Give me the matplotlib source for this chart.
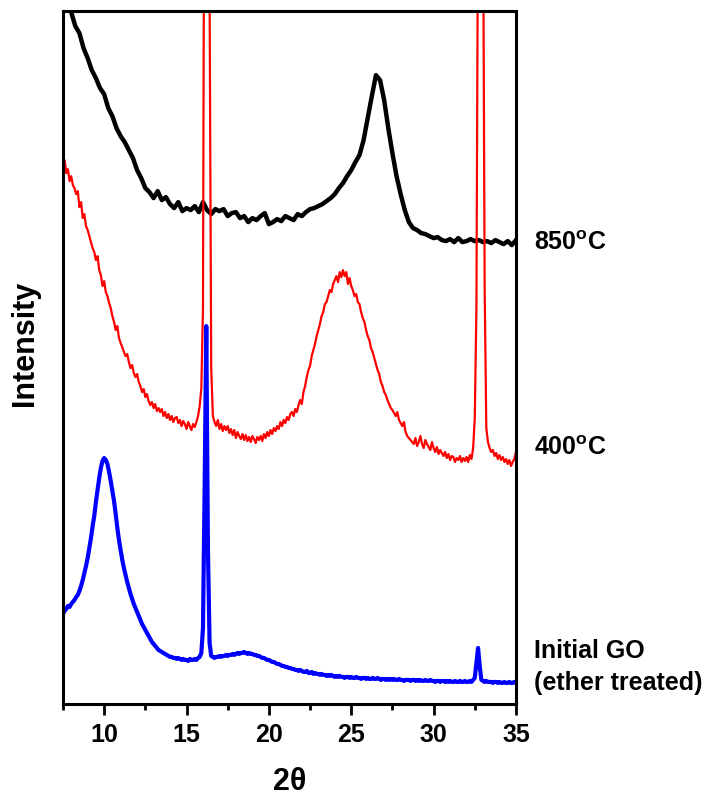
import numpy as np
import matplotlib
matplotlib.use('Agg')
import matplotlib.pyplot as plt

plt.rcParams['font.family'] = ['Liberation Sans', 'DejaVu Sans']
plt.rcParams['font.weight'] = 'bold'
plt.rcParams['mathtext.fontset'] = 'custom'
plt.rcParams['mathtext.rm'] = 'Liberation Sans:bold'
plt.rcParams['mathtext.bf'] = 'Liberation Sans:bold'

# 850 C sample, 0.25 deg steps from 7.5 to 35
int_850 = [700, 690, 676, 662, 655, 640, 630, 618, 610, 600,
           594, 580, 572, 560, 552, 546, 538, 530, 518, 510,
           500, 496, 490, 497, 488, 491, 484, 480, 486, 477,
           480, 478, 482, 476, 486, 478, 474, 479, 477, 479,
           472, 475, 476, 470, 472, 466, 470, 468, 472, 475,
           464, 466, 469, 467, 472, 470, 468, 474, 472, 476,
           479, 480, 482, 484, 487, 490, 494, 500, 505, 512,
           518, 526, 533, 548, 570, 592, 613, 608, 588, 560,
           535, 512, 494, 478, 466, 460, 458, 455, 454, 452,
           450, 451, 448, 447, 449, 446, 450, 446, 447, 449,
           447, 448, 446, 447, 445, 448, 446, 444, 447, 443,
           448]

# 400 C sample, 0.1 deg steps from 7.5 to 35
int_400 = [521, 528, 515, 519, 507, 512, 503, 500, 494, 497,
           481, 486, 470, 474, 462, 458, 452, 446, 440, 436,
           428, 432, 418, 413, 402, 407, 396, 392, 385, 380,
           372, 366, 358, 362, 350, 345, 341, 336, 332, 334,
           326, 320, 323, 315, 311, 314, 306, 302, 296, 299,
           291, 294, 287, 283, 286, 280, 284, 277, 280, 276,
           279, 272, 276, 270, 274, 268, 272, 266, 270, 271,
           265, 268, 262, 267, 264, 259, 266, 262, 258, 264,
           261, 266, 272, 282, 300, 380, 1000, 1000, 1000, 700,
           320, 272, 266, 262, 268, 259, 264, 257, 262, 258,
           262, 255, 259, 253, 258, 250, 256, 252, 249, 254,
           248, 253, 247, 251, 246, 252, 249, 245, 251, 248,
           252, 247, 254, 250, 256, 252, 258, 254, 260, 257,
           262, 259, 266, 262, 268, 265, 271, 268, 274, 276,
           272, 279, 276, 283, 288, 284, 296, 302, 311, 318,
           322, 332, 338, 344, 352, 358, 364, 372, 376, 384,
           386, 392, 398, 396, 404, 408, 412, 406, 416, 411,
           418, 412, 416, 404, 410, 402, 398, 392, 394, 386,
           384, 376, 370, 366, 358, 352, 348, 340, 336, 330,
           324, 318, 314, 306, 302, 296, 293, 288, 284, 280,
           278, 275, 272, 276, 268, 265, 262, 266, 256, 252,
           250, 248, 246, 244, 250, 242, 246, 252, 244, 240,
           248, 244, 241, 238, 246, 240, 236, 241, 234, 238,
           235, 232, 236, 230, 234, 228, 232, 231, 226, 230,
           228, 232, 226, 230, 227, 231, 226, 233, 229, 240,
           270, 380, 800, 1000, 1000, 800, 400, 260, 246, 240,
           236, 238, 232, 235, 229, 233, 228, 231, 226, 229,
           224, 228, 222, 226, 229, 236]

# initial GO (ether treated), 0.1 deg steps from 7.5 to 35
int_go = [74, 77, 79, 82, 81, 84, 86, 88, 91, 93,
          97, 102, 108, 115, 122, 130, 140, 150, 162, 172,
          186, 198, 210, 220, 227, 230, 228, 224, 216, 207,
          197, 187, 174, 160, 148, 138, 128, 120, 113, 106,
          100, 94, 89, 84, 80, 76, 72, 68, 64, 61,
          58, 55, 52, 49, 46, 44, 42, 40, 38, 37,
          36, 35, 34, 33, 32, 31, 31, 30, 30, 29,
          30, 29, 28, 29, 28, 28, 27, 29, 28, 28,
          29, 28, 30, 31, 35, 60, 200, 362, 140, 45,
          32, 31, 30, 31, 31, 32, 31, 32, 32, 33,
          32, 33, 33, 34, 33, 34, 35, 34, 35, 35,
          36, 35, 34, 35, 34, 34, 33, 33, 32, 32,
          31, 30, 30, 29, 28, 28, 27, 26, 26, 25,
          24, 24, 23, 22, 22, 21, 21, 20, 20, 19,
          19, 18, 18, 17, 18, 17, 16, 16, 17, 15,
          15, 16, 14, 15, 14, 14, 13, 14, 13, 13,
          12, 13, 12, 13, 12, 11, 12, 11, 12, 11,
          11, 10, 11, 11, 10, 11, 10, 10, 11, 10,
          10, 9, 10, 10, 9, 10, 9, 9, 10, 9,
          9, 10, 9, 8, 9, 9, 8, 9, 8, 9,
          8, 9, 8, 8, 9, 8, 8, 7, 8, 8,
          8, 7, 8, 8, 7, 8, 7, 8, 7, 7,
          8, 7, 7, 8, 7, 7, 6, 7, 7, 6,
          7, 7, 6, 7, 6, 7, 6, 6, 7, 6,
          6, 7, 6, 6, 7, 6, 6, 7, 6, 8,
          10, 25, 40, 22, 8, 7, 6, 7, 6, 6,
          6, 5, 6, 6, 5, 6, 5, 5, 6, 5,
          5, 6, 5, 5, 6, 5]

labels = [r'850$^{\rm o}$C', r'400$^{\rm o}$C', 'Initial GO\n(ether treated)']
label_heights = [445, 240, 21]   # same units as the intensity lists

tt_850 = np.linspace(7.5, 35, len(int_850))
tt_400 = np.linspace(7.5, 35, len(int_400))
tt_go = np.linspace(7.5, 35, len(int_go))

fig = plt.figure(figsize=(7.18, 7.99), dpi=100)
ax = fig.add_axes([0.0877, 0.119, 0.6309, 0.867])

ax.plot(tt_850, int_850, color='black', lw=3.2)
ax.plot(tt_400, int_400, color='red', lw=1.6)
ax.plot(tt_go, int_go, color='blue', lw=3.0)

ax.set_xlim(7.5, 35)
ax.set_ylim(-16, 677)
ax.set_xticks([10, 15, 20, 25, 30, 35])
ax.set_xticks([7.5, 12.5, 17.5, 22.5, 27.5, 32.5], minor=True)
ax.set_yticks([])
ax.tick_params(axis='x', which='major', length=8, width=2, labelsize=18, pad=6)
ax.tick_params(axis='x', which='minor', length=4.5, width=2)
for sp in ax.spines.values():
    sp.set_linewidth(2.2)
for lab in ax.get_xticklabels():
    lab.set_fontweight('bold')

ax.set_xlabel('2θ', fontsize=22, fontweight='bold', labelpad=14)
ax.set_ylabel('Intensity', fontsize=22, fontweight='bold')
ax.yaxis.set_label_coords(-0.05, 0.52)

# sample labels to the right of the frame
trans = ax.get_yaxis_transform()
for txt, h in zip(labels, label_heights):
    ax.text(1.04, h, txt, transform=trans, fontsize=18, fontweight='bold',
            va='center', ha='left', linespacing=1.4, clip_on=False)

fig.savefig('out.png', dpi=100)
